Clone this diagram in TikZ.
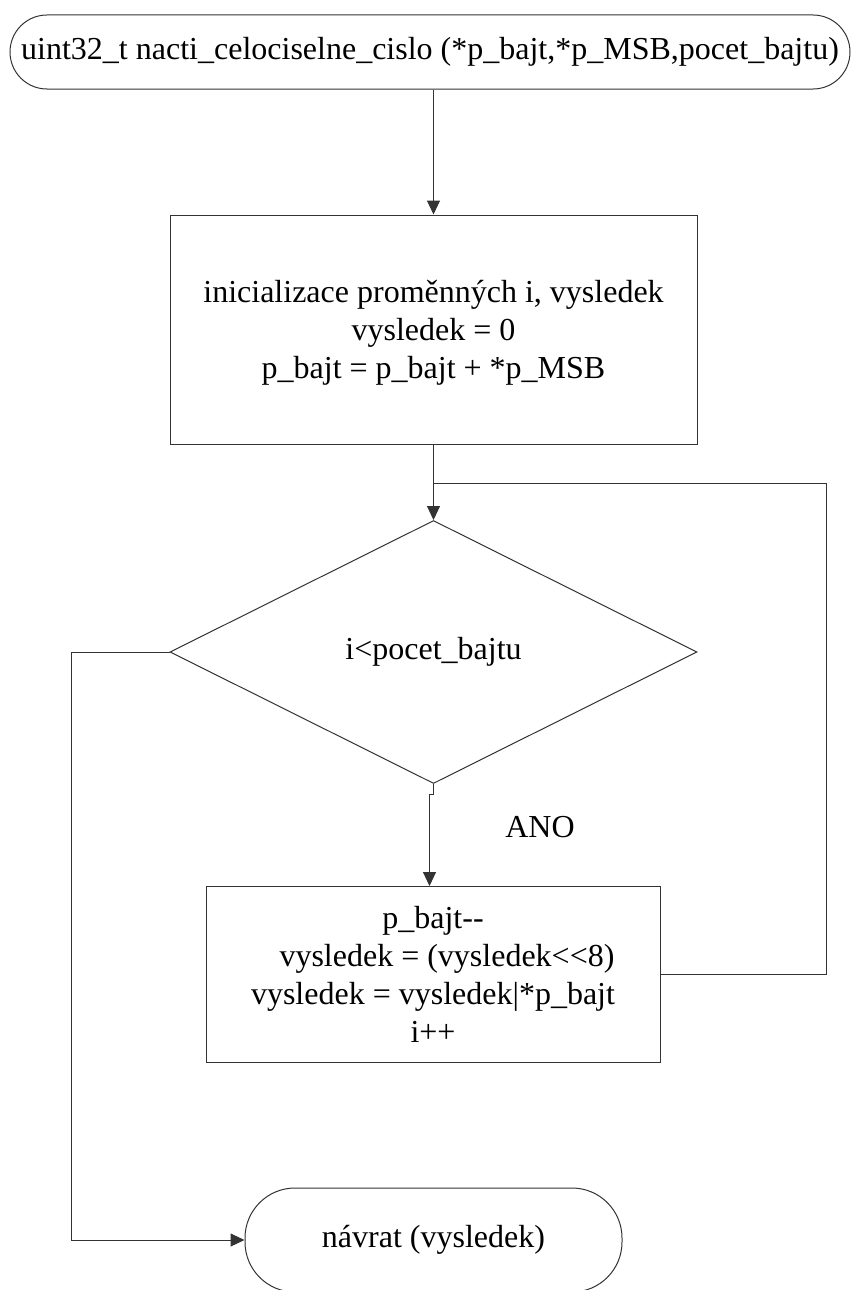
\documentclass[tikz,border=0pt]{standalone}
\usepackage{fontspec}
\setmainfont{Liberation Serif}
\usetikzlibrary{shapes.geometric,arrows.meta}
\begin{document}
\begin{tikzpicture}[x=1pt,y=-1pt,
  line/.style={draw=black!80, line width=1pt},
  arr/.style={line, -{Triangle[length=14pt,width=13pt]}},
  txt/.style={font=\fontsize{32}{38}\selectfont, align=center, text=black},
  term/.style={rectangle, line, inner sep=0pt, txt},
  procbox/.style={rectangle, line, inner sep=0pt},
  decision/.style={diamond, line, inner sep=0pt, txt},
]
\useasboundingbox (0,0) rectangle (851,1290);

% start terminal
\node[term, rounded corners=37pt, minimum width=840pt, minimum height=74pt] (start) at (430,52)
  {uint32\_t nacti\_celociselne\_cislo (*p\_bajt,*p\_MSB,pocet\_bajtu)};

% initialisation block
\node[procbox, minimum width=527pt, minimum height=229pt] (init) at (433.5,329.5) {};
\node[txt] (inittext) at (433.5,333)
  {inicializace proměnných i, vysledek\\vysledek = 0\\p\_bajt = p\_bajt + *p\_MSB};

% loop condition
\node[decision, minimum width=527pt, minimum height=263pt] (cond) at (433.5,652) {i<pocet\_bajtu};

% loop body
\node[procbox, txt, minimum width=454pt, minimum height=176pt] (body) at (433,974.5)
  {p\_bajt{-}{-}\\\hspace*{28pt}vysledek = (vysledek<{}<8)\\vysledek = vysledek|*p\_bajt\\i++};

% end terminal
\node[term, rounded corners=50pt, minimum width=377pt, minimum height=104pt] (end) at (433.5,1240)
  {návrat (vysledek)};

\node[txt] (ano) at (540,827) {ANO};

% connectors
\coordinate (join) at (433.5,483);
\coordinate (loopR) at (826,483);
\coordinate (exitL) at (71,652);

\draw[arr] (init.north |- start.south) -- (init.north);
\draw[arr] (init.south) -- (cond.north);
\draw[arr] (cond.south) -- ++(0,10) -- ++(-4,0) coordinate (jog) -- (jog |- body.north);
\draw[line] (body.east) -| (loopR) -- (join);
\draw[arr] (cond.west) -- (exitL) |- (end.west);
\end{tikzpicture}
\end{document}
